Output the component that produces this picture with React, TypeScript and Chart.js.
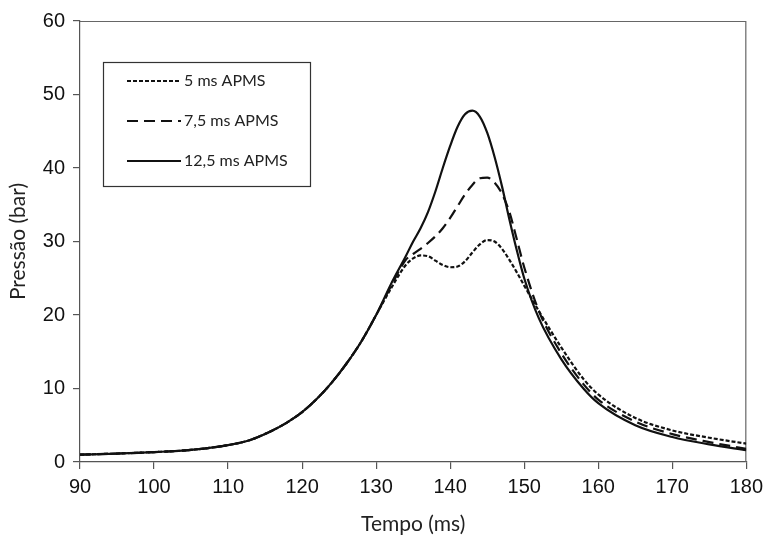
import React, { useEffect, useRef } from "react";
import { Chart, registerables } from "chart.js";

Chart.register(...registerables);

const times = [90, 95, 100, 105, 110, 113, 116, 118, 120, 122, 124, 126, 128, 130, 132, 134, 135, 136, 137, 138, 139, 140, 141, 142, 143, 144, 145, 146, 147, 148, 149, 150, 152, 155, 158, 160, 165, 170, 175, 180];

const apms5 = [1.0, 1.15, 1.35, 1.65, 2.3, 3.0, 4.3, 5.4, 6.8, 8.6, 10.8, 13.4, 16.4, 20.0, 23.6, 26.8, 27.7, 28.1, 28.0, 27.4, 26.8, 26.5, 26.6, 27.3, 28.5, 29.6, 30.2, 30.0, 29.0, 27.5, 25.8, 24.0, 20.5, 15.6, 11.3, 9.2, 6.0, 4.3, 3.3, 2.5];

const apms75 = [1.0, 1.15, 1.35, 1.65, 2.3, 3.0, 4.3, 5.4, 6.8, 8.6, 10.8, 13.4, 16.4, 20.0, 23.9, 27.5, 28.3, 29.0, 29.8, 30.7, 31.8, 33.2, 34.8, 36.4, 37.7, 38.6, 38.7, 38.0, 36.5, 34.0, 30.3, 26.5, 20.5, 14.8, 10.6, 8.5, 5.5, 3.8, 2.7, 1.8];

const apms125 = [1.0, 1.15, 1.35, 1.65, 2.3, 3.0, 4.3, 5.4, 6.8, 8.6, 10.8, 13.4, 16.4, 20.0, 24.2, 28.0, 30.0, 31.8, 34.0, 36.8, 40.0, 43.0, 45.6, 47.3, 47.8, 47.0, 44.8, 41.5, 37.5, 33.0, 28.8, 25.0, 19.5, 14.0, 10.0, 8.0, 5.0, 3.4, 2.4, 1.6];

const seriesLabels = ["5 ms APMS", "7,5 ms APMS", "12,5 ms APMS"];
const xTitle = "Tempo (ms)";
const yTitle = "Pressão (bar)";

const toPoints = (vals: number[]) => times.map((t, i) => ({ x: t, y: vals[i] }));

const tickFont = { family: "'Liberation Sans', Arial", size: 20 };

const frameAndLegend = {
  id: "frameAndLegend",
  beforeDatasetsDraw(chart: any) {
    const { ctx, chartArea } = chart;
    ctx.save();
    ctx.strokeStyle = "#666";
    ctx.lineWidth = 1.2;
    ctx.beginPath();
    ctx.moveTo(chartArea.left, chartArea.top + 0.5);
    ctx.lineTo(chartArea.right - 0.5, chartArea.top + 0.5);
    ctx.lineTo(chartArea.right - 0.5, chartArea.bottom);
    ctx.stroke();
    ctx.restore();
  },
  afterDraw(chart: any) {
    const { ctx } = chart;
    ctx.save();
    ctx.strokeStyle = "#333";
    ctx.lineWidth = 1.2;
    ctx.strokeRect(103.5, 62.5, 207, 124);
    const rows = [81, 121, 161];
    chart.data.datasets.forEach((ds: any, i: number) => {
      const y = rows[i];
      ctx.strokeStyle = "#111";
      ctx.lineWidth = 2;
      ctx.setLineDash(ds.borderDash || []);
      ctx.beginPath();
      ctx.moveTo(127, y);
      ctx.lineTo(181, y);
      ctx.stroke();
      ctx.setLineDash([]);
      ctx.fillStyle = "#222";
      ctx.font = "16px Lato";
      ctx.textBaseline = "middle";
      ctx.textAlign = "left";
      ctx.fillText(ds.label, 184, y);
    });
    ctx.restore();
  },
};

export default function App() {
  const ref = useRef<HTMLCanvasElement | null>(null);
  useEffect(() => {
    if (!ref.current) return;
    const dashes = [[4, 2], [11, 6], []];
    const vals = [apms5, apms75, apms125];
    const chart = new Chart(ref.current, {
      type: "line",
      data: {
        datasets: vals.map((v, i) => ({
          label: seriesLabels[i],
          data: toPoints(v),
          borderColor: "#111",
          borderWidth: 2.2,
          borderDash: dashes[i],
          pointRadius: 0,
          cubicInterpolationMode: "monotone" as const,
          fill: false,
        })),
      },
      options: {
        responsive: false,
        animation: false,
        devicePixelRatio: 1,
        layout: { padding: { top: 21, right: 19, left: 0, bottom: 0 } },
        plugins: { legend: { display: false }, tooltip: { enabled: false } },
        scales: {
          x: {
            type: "linear",
            min: 90,
            max: 180,
            afterFit: (s: any) => { s.height = 77; },
            ticks: { stepSize: 10, color: "#111", font: tickFont, padding: 6 },
            grid: { drawOnChartArea: false, drawTicks: true, tickLength: 7, color: "#555", lineWidth: 1.2 },
            border: { color: "#555", width: 1.2 },
            title: { display: true, text: xTitle, color: "#222", font: { family: "Lato", size: 21 }, padding: { top: 4, bottom: 2 } },
          },
          y: {
            min: 0,
            max: 60,
            afterFit: (s: any) => { s.width = 80; },
            ticks: { stepSize: 10, color: "#111", font: tickFont, padding: 8 },
            grid: { drawOnChartArea: false, drawTicks: true, tickLength: 7, color: "#555", lineWidth: 1.2 },
            border: { color: "#555", width: 1.2 },
            title: { display: true, text: yTitle, color: "#222", font: { family: "Lato", size: 21 }, padding: { top: 6, bottom: 4 } },
          },
        },
      },
      plugins: [frameAndLegend],
    });
    return () => chart.destroy();
  }, []);
  return (
    <div style={{ position: "absolute", left: 0, top: 0, width: 769, height: 539, background: "#fff" }}>
      <canvas ref={ref} width={769} height={539} />
    </div>
  );
}
